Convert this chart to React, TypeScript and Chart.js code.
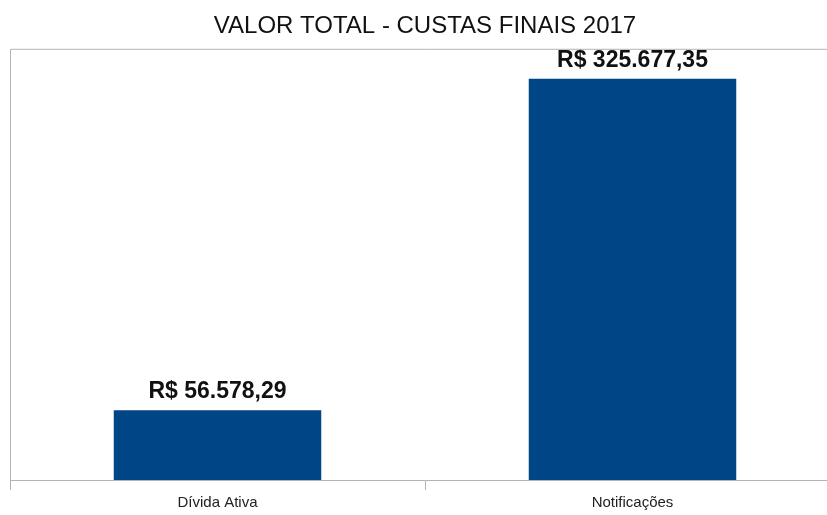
import React, { useEffect, useRef } from "react";
import { Chart, registerables } from "chart.js";

Chart.register(...registerables);

const categories: string[] = ["Dívida Ativa", "Notificações"];
const values: number[] = [56578.29, 325677.35];
const valueLabels: string[] = ["R$ 56.578,29", "R$ 325.677,35"];
const chartTitle = "VALOR TOTAL - CUSTAS FINAIS 2017";

const BORDER = "#b3b3b3";
const FONT = "'Liberation Sans', Arial, sans-serif";

const labelPlugin = {
  id: "barLabels",
  afterDatasetsDraw(chart: any) {
    const { ctx } = chart;
    const meta = chart.getDatasetMeta(0);
    ctx.save();
    ctx.font = `bold 23px ${FONT}`;
    ctx.fillStyle = "#111111";
    ctx.textAlign = "center";
    ctx.textBaseline = "alphabetic";
    meta.data.forEach((bar: any, i: number) => {
      ctx.fillText(valueLabels[i], bar.x, bar.y - 12);
    });
    ctx.restore();
  },
};

const framePlugin = {
  id: "frameTopLeft",
  afterDraw(chart: any) {
    const { ctx, chartArea } = chart;
    ctx.save();
    ctx.strokeStyle = BORDER;
    ctx.lineWidth = 1;
    ctx.beginPath();
    ctx.moveTo(chartArea.left + 0.5, chartArea.bottom);
    ctx.lineTo(chartArea.left + 0.5, chartArea.top + 0.5);
    ctx.lineTo(chartArea.right, chartArea.top + 0.5);
    ctx.stroke();
    ctx.restore();
  },
};

export default function App() {
  const ref = useRef<HTMLCanvasElement | null>(null);
  useEffect(() => {
    if (!ref.current) return;
    const chart = new Chart(ref.current, {
      type: "bar",
      data: {
        labels: categories,
        datasets: [
          {
            data: values,
            backgroundColor: "#004586",
            borderWidth: 0,
            categoryPercentage: 1,
            barPercentage: 0.5,
          },
        ],
      },
      options: {
        animation: false,
        responsive: false,
        maintainAspectRatio: false,
        layout: { padding: { left: 10, right: 3, top: 10, bottom: 4 } },
        plugins: {
          legend: { display: false },
          tooltip: { enabled: false },
          title: {
            display: true,
            text: chartTitle,
            color: "#111111",
            font: { family: FONT, size: 24, weight: "normal" },
            padding: { top: 2, bottom: 8 },
          },
        },
        scales: {
          x: {
            grid: { display: true, drawOnChartArea: false, drawTicks: true, tickLength: 10, color: BORDER },
            border: { display: true, color: BORDER, width: 1 },
            ticks: {
              color: "#222222",
              padding: 4,
              font: { family: FONT, size: 15 },
            },
          },
          y: {
            display: false,
            min: 0,
            max: 350000,
          },
        },
      },
      plugins: [labelPlugin, framePlugin],
    });
    return () => chart.destroy();
  }, []);
  return (
    <div style={{ position: "absolute", left: 0, top: 0, width: 827, height: 515, overflow: "hidden" }}>
      <canvas ref={ref} width={843} height={520} style={{ display: "block", width: 843, height: 520 }} />
    </div>
  );
}
